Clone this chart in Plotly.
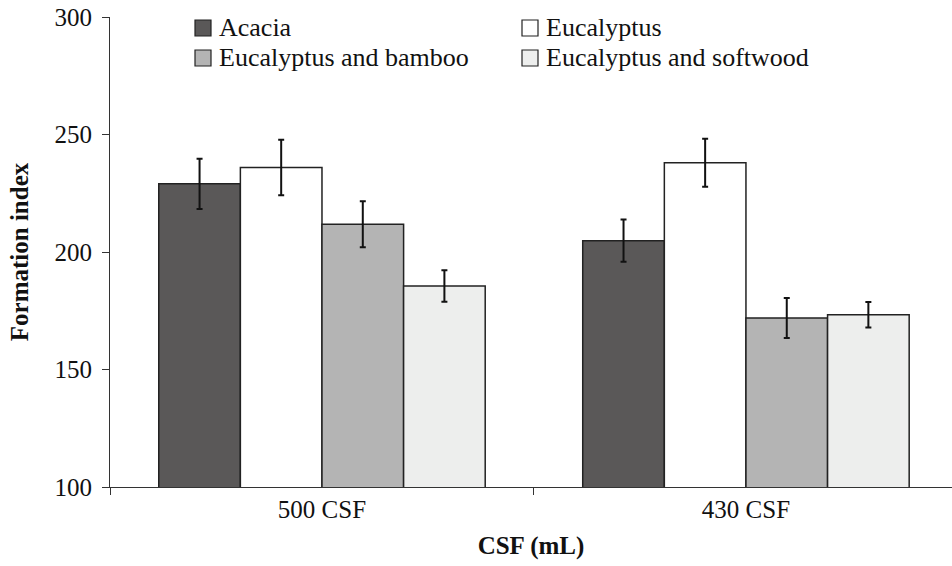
import plotly.graph_objects as go

# Pulp series and their CSF levels
categories = ["500 CSF", "430 CSF"]
series_names = ["Acacia", "Eucalyptus", "Eucalyptus and bamboo", "Eucalyptus and softwood"]
formation_index = [
    [229.0, 204.8],
    [236.0, 238.0],
    [211.8, 171.9],
    [185.5, 173.3],
]
error_values = [
    [10.7, 9.0],
    [11.8, 10.2],
    [9.8, 8.5],
    [6.7, 5.4],
]
fill_colors = ["#5a5858", "#ffffff", "#b4b4b4", "#edeeed"]

FONT = "Liberation Serif"
W, H = 952, 566
M_L, M_R, M_T, M_B = 110, 0, 17, 79
PLOT_W = W - M_L - M_R
PLOT_H = H - M_T - M_B


def px_x(x):
    return (x - M_L) / PLOT_W


def px_y(y):
    return (H - M_B - y) / PLOT_H


fig = go.Figure()
for name, vals, errs, col in zip(series_names, formation_index, error_values, fill_colors):
    fig.add_trace(go.Bar(
        name=name,
        x=categories,
        y=vals,
        base=0,
        showlegend=False,
        marker=dict(color=col, line=dict(color="#222222", width=1.5)),
        error_y=dict(type="data", array=errs, visible=True,
                     color="#111111", thickness=2, width=3),
    ))

# Two-column key in the top-left corner of the plot
key_cols = [195, 522]
key_rows = [28, 58]
sw = 16
for i, (name, col) in enumerate(zip(series_names, fill_colors)):
    cx = key_cols[i % 2]
    cy = key_rows[i // 2]
    fig.add_shape(
        type="rect", xref="paper", yref="paper",
        x0=px_x(cx), x1=px_x(cx + sw),
        y0=px_y(cy - sw / 2), y1=px_y(cy + sw / 2),
        fillcolor=col, line=dict(color="#222222", width=1.2),
    )
    fig.add_annotation(
        xref="paper", yref="paper",
        x=px_x(cx + sw + 6), y=px_y(cy),
        xanchor="left", yanchor="middle",
        text=name, showarrow=False,
        font=dict(family=FONT, size=26, color="#111111"),
    )

fig.update_layout(
    width=W, height=H,
    margin=dict(l=M_L, r=M_R, t=M_T, b=M_B),
    paper_bgcolor="white", plot_bgcolor="white",
    barmode="group", bargap=0.23, bargroupgap=0,
    font=dict(family=FONT, size=25, color="#111111"),
    xaxis=dict(
        type="category",
        range=[-0.5, 1.486],
        tickson="boundaries",
        ticks="outside", ticklen=7, tickcolor="#333333", tickwidth=1,
        showline=True, linecolor="#333333", linewidth=1,
        showgrid=False, zeroline=False,
        tickfont=dict(family=FONT, size=25),
        title=dict(text="<b>CSF (mL)</b>", font=dict(family=FONT, size=25), standoff=14),
    ),
    yaxis=dict(
        range=[100, 300], dtick=50,
        ticks="outside", ticklen=7, tickcolor="#333333", tickwidth=1,
        showline=True, linecolor="#333333", linewidth=1,
        showgrid=False, zeroline=False,
        tickfont=dict(family=FONT, size=25),
        ticklabelstandoff=5,
        title=dict(text="<b>Formation index</b>", font=dict(family=FONT, size=25), standoff=18),
    ),
)

fig.write_html("out.html")
